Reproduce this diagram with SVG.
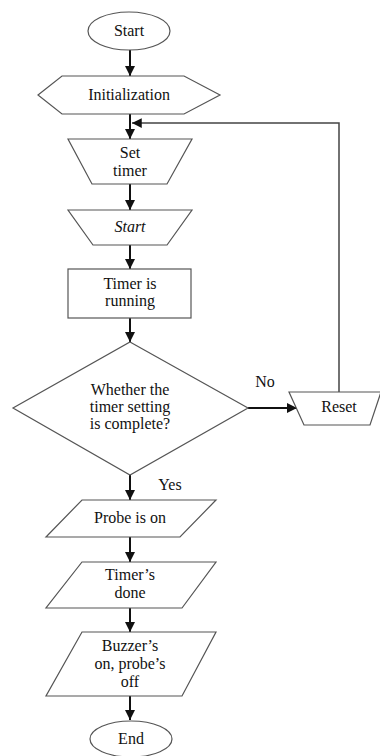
<svg xmlns="http://www.w3.org/2000/svg" width="380" height="756" viewBox="0 0 380 756">
<style>
.s{fill:#fff;stroke:#555;stroke-width:1.2}
.t{font-family:'Liberation Serif','Times New Roman','DejaVu Serif',serif;font-size:16px;fill:#111;text-anchor:middle;dominant-baseline:middle}
.c{stroke:#111;stroke-width:2;fill:none}
.f{stroke:#444;stroke-width:1.5;fill:none}
</style>
<defs>
<marker id="ah" viewBox="0 0 10 10" refX="10" refY="5" markerWidth="5" markerHeight="5" orient="auto" markerUnits="strokeWidth">
<path d="M0,0L10,5L0,10z" fill="#111"/>
</marker>
<marker id="ah2" viewBox="0 0 10 10" refX="10" refY="5" markerWidth="6.5" markerHeight="6.5" orient="auto" markerUnits="strokeWidth">
<path d="M0,0L10,5L0,10z" fill="#111"/>
</marker>
</defs>
<rect width="380" height="756" fill="#fff"/>
<g id="connectors">
<line class="c" x1="130" y1="50" x2="130" y2="76" marker-end="url(#ah)"/>
<line class="c" x1="130" y1="114" x2="130" y2="139" marker-end="url(#ah)"/>
<line class="c" x1="130" y1="184" x2="130" y2="210" marker-end="url(#ah)"/>
<line class="c" x1="130" y1="245" x2="130" y2="269" marker-end="url(#ah)"/>
<line class="c" x1="130" y1="318" x2="130" y2="342" marker-end="url(#ah)"/>
<line class="c" x1="248" y1="408" x2="297" y2="408" marker-end="url(#ah)"/>
<polyline class="f" points="339,392 339,123 132,123" marker-end="url(#ah2)"/>
<line class="c" x1="130" y1="475" x2="130" y2="500" marker-end="url(#ah)"/>
<line class="c" x1="130" y1="537" x2="130" y2="562" marker-end="url(#ah)"/>
<line class="c" x1="130" y1="608" x2="130" y2="632" marker-end="url(#ah)"/>
<line class="c" x1="130" y1="696" x2="130" y2="720" marker-end="url(#ah)"/>
<text class="t" x="265" y="383">No</text>
<text class="t" x="170" y="486">Yes</text>
</g>
<g id="start">
<ellipse class="s" cx="129" cy="31" rx="41" ry="19"/>
<text class="t" x="129" y="32">Start</text>
</g>
<g id="init">
<polygon class="s" points="38,95 62,76 184,76 220,95 184,114 62,114"/>
<text class="t" x="129" y="96">Initialization</text>
</g>
<g id="settimer">
<polygon class="s" points="68,139 192,139 167,184 92,184"/>
<text class="t" x="130" y="154">Set</text>
<text class="t" x="130" y="172">timer</text>
</g>
<g id="start2">
<polygon class="s" points="68,210 192,210 167,245 93,245"/>
<text class="t" x="130" y="228" font-style="italic">Start</text>
</g>
<g id="running">
<rect class="s" x="68" y="269" width="123" height="49"/>
<text class="t" x="130" y="285">Timer is</text>
<text class="t" x="130" y="302">running</text>
</g>
<g id="decision">
<polygon class="s" points="130,342 248,408 130,475 13,408"/>
<text class="t" x="130" y="391">Whether the</text>
<text class="t" x="130" y="408">timer setting</text>
<text class="t" x="130" y="425">is complete?</text>
</g>
<g id="reset">
<polygon class="s" points="289,392 381,392 370,425 304,425"/>
<text class="t" x="339" y="408">Reset</text>
</g>
<g id="probe">
<polygon class="s" points="82,500 216,500 180,537 46,537"/>
<text class="t" x="130" y="519">Probe is on</text>
</g>
<g id="done">
<polygon class="s" points="82,562 216,562 182,608 46,608"/>
<text class="t" x="130" y="576">Timer’s</text>
<text class="t" x="130" y="594">done</text>
</g>
<g id="buzzer">
<polygon class="s" points="82,632 216,632 182,696 46,696"/>
<text class="t" x="130" y="647">Buzzer’s</text>
<text class="t" x="130" y="665">on, probe’s</text>
<text class="t" x="130" y="683">off</text>
</g>
<g id="end">
<ellipse class="s" cx="131" cy="739" rx="41" ry="18"/>
<text class="t" x="131" y="740">End</text>
</g>
</svg>
